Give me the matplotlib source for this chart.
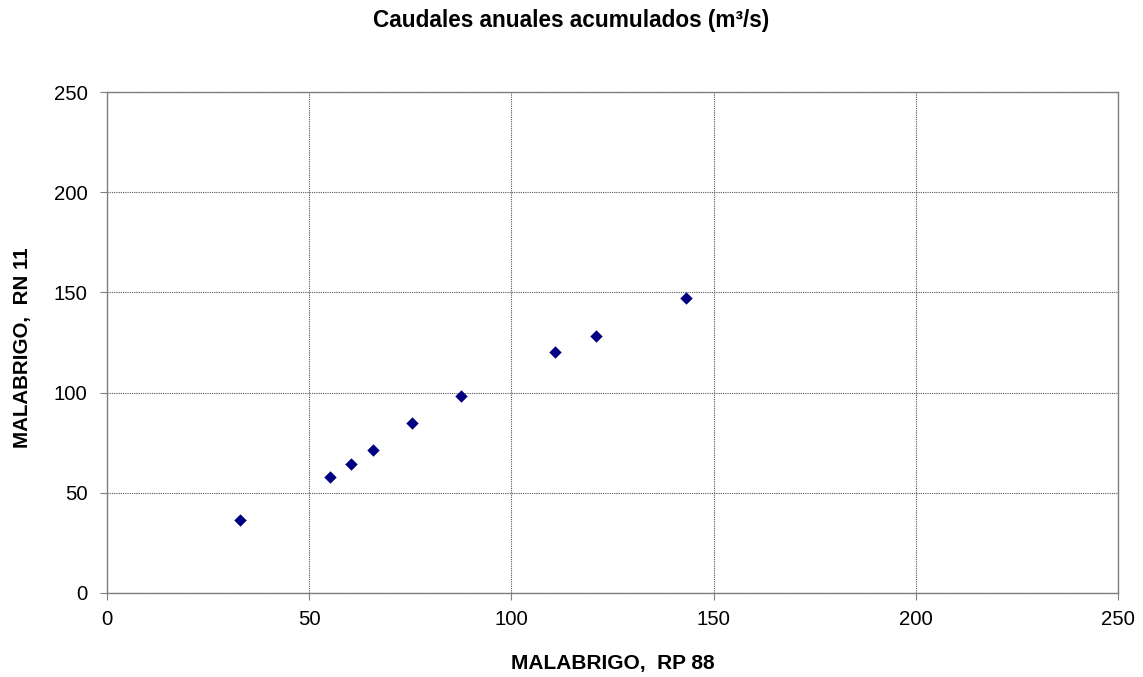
import matplotlib
matplotlib.use("Agg")
import matplotlib.pyplot as plt

x_rp88 = [32.9, 55.1, 60.3, 65.8, 75.5, 87.5, 110.9, 120.8, 143.1]
y_rn11 = [36.6, 58.1, 64.4, 71.4, 84.8, 98.2, 120.1, 128.1, 147.4]
ticks = [0, 50, 100, 150, 200, 250]

plt.rcParams['font.family'] = ['Liberation Sans', 'DejaVu Sans']

fig = plt.figure(figsize=(11.43, 6.77), dpi=100)
ax = fig.add_axes([107/1143, 1-593/677, (1118-107)/1143, (593-92)/677])
ax.scatter(x_rp88, y_rn11, marker='D', s=40, color='#000080', zorder=3, linewidths=0)
ax.set_xlim(0, 250)
ax.set_ylim(0, 250)
ax.set_xticks(ticks)
ax.set_yticks(ticks)
ax.grid(True, color='#555555', linestyle=(0, (1, 1)), linewidth=0.8)
for s in ax.spines.values():
    s.set_color('#808080')
    s.set_linewidth(1.0)
ax.tick_params(direction='out', length=5, color='#808080', labelsize=14.7)
ax.tick_params(axis='x', pad=7)
ax.tick_params(axis='y', pad=9)
ax.set_xlabel('MALABRIGO,  RP 88', fontsize=15, fontweight='bold')
ax.set_ylabel('MALABRIGO,  RN 11', fontsize=14.8, fontweight='bold')
ax.xaxis.set_label_coords(0.5, -(663-593)/501, transform=ax.transAxes)
ax.yaxis.set_label_coords(-(107-23)/1011, 0.49, transform=ax.transAxes)
ax.xaxis.label.set_va('center')
ax.yaxis.label.set_va('center')
fig.text(0.5, 1-20/677, 'Caudales anuales acumulados (m³/s)', ha='center', va='center',
         fontsize=16.3, fontweight='bold')
fig.savefig('out.png', dpi=100, facecolor='white')
